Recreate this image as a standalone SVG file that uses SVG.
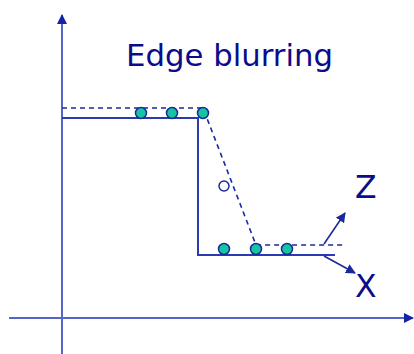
<svg xmlns="http://www.w3.org/2000/svg" width="414" height="354" viewBox="0 0 414 354">
<style>
.axis{stroke:#5566c6;stroke-width:2;fill:none}
.step{stroke:#2a3ab0;stroke-width:2;fill:none}
.dash{stroke:#1a2a9c;stroke-width:1.6;fill:none;stroke-dasharray:5,4}
.dot{fill:#14c6a0;stroke:#1a2a9c;stroke-width:1.5}
.hollow{fill:#fff;stroke:#1a2a9c;stroke-width:1.5}
.lbl{font-family:"DejaVu Sans",Verdana,sans-serif;fill:#0c0c8a}
.arr{stroke:#1a2a9c;stroke-width:1.6;fill:none}
</style>
<defs>
<marker id="ah" viewBox="0 0 10 10" refX="9" refY="5" markerWidth="10" markerHeight="10" markerUnits="userSpaceOnUse" orient="auto">
<path d="M0,0 L10,5 L0,10 Z" fill="#1a2a9c"/>
</marker>
<marker id="axh" viewBox="0 0 10 10" refX="9" refY="5" markerWidth="10" markerHeight="10" markerUnits="userSpaceOnUse" orient="auto">
<path d="M0,0 L10,5 L0,10 Z" fill="#1424a4"/>
</marker>
</defs>
<g id="axes">
<line class="axis" x1="62" y1="354" x2="62" y2="15" marker-end="url(#axh)"/>
<line class="axis" x1="9" y1="318" x2="413" y2="318" marker-end="url(#axh)"/>
</g>
<g id="title"><text class="lbl" x="126" y="66" font-size="31" textLength="207" lengthAdjust="spacingAndGlyphs">Edge blurring</text></g>
<g id="connectors">
<polyline class="step" points="62,118 198,118 198,255 335,255"/>
<polyline class="dash" points="62,108 203,108 256,245 345,245"/>
<line class="arr" x1="324" y1="244" x2="345" y2="213" marker-end="url(#ah)"/>
<line class="arr" x1="324" y1="256" x2="355" y2="273" marker-end="url(#ah)"/>
</g>
<g id="points">
<circle class="dot" cx="141" cy="113" r="5.5"/>
<circle class="dot" cx="172" cy="113" r="5.5"/>
<circle class="dot" cx="203" cy="113" r="5.5"/>
<circle class="hollow" cx="224" cy="186" r="5"/>
<circle class="dot" cx="224" cy="249" r="5.5"/>
<circle class="dot" cx="256" cy="249" r="5.5"/>
<circle class="dot" cx="287" cy="249" r="5.5"/>
</g>
<g id="labelZ"><text class="lbl" x="355" y="198" font-size="31.5">Z</text></g>
<g id="labelX"><text class="lbl" x="355" y="297" font-size="31.5">X</text></g>
</svg>
